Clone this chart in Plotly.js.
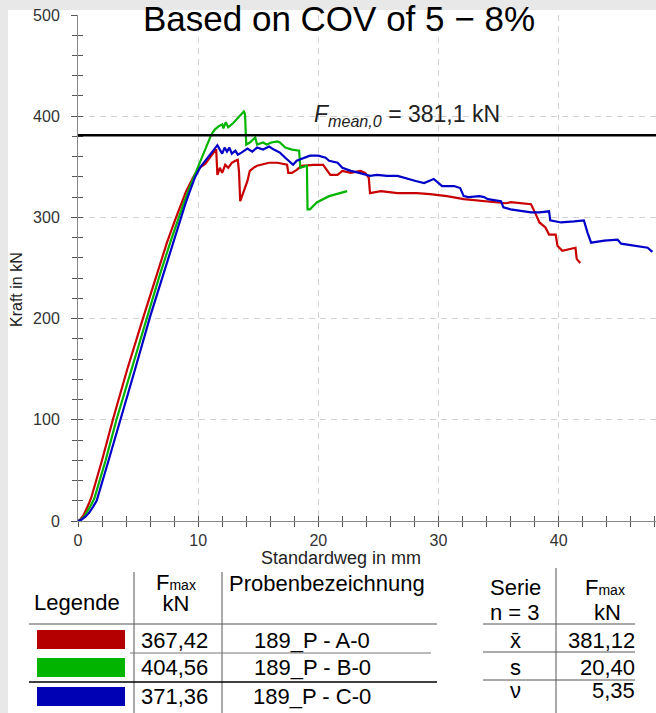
<!DOCTYPE html>
<html>
<head>
<meta charset="utf-8">
<script src="https://cdn.plot.ly/plotly-3.0.1.min.js"></script>
<style>html,body{margin:0;padding:0;background:#e8e8e8;}#chart{width:656px;height:713px;}</style>
</head>
<body>
<div id="chart"></div>
<script>
// ---------- data ----------
const categories = ['189_P - A-0', '189_P - B-0', '189_P - C-0'];
const fmaxValues = ['367,42', '404,56', '371,36'];
const statLabels = ['x\u0304', 's', '\u03bd'];
const statValues = ['381,12', '20,40', '5,35'];
const FMEAN = 381.1;
const titleText = 'Based on COV of 5 \u2212 8%';

const redX = [0,0.15,0.45,0.7,0.9,1.1,2.0,2.9,4.1,5.4,6.5,7.4,8.1,8.6,9.0,9.6,10.0,10.6,11.3,11.5,11.6,11.8,12.0,12.25,12.5,12.8,13.1,13.3,13.4,13.5,13.8,14.1,14.3,14.6,14.9,15.3,15.9,16.6,17.4,17.5,17.8,18.2,18.6,19.6,20.4,20.7,21.0,21.6,22.0,22.7,23.5,23.9,24.2,24.3,25.2,26.6,28.2,29.3,30.7,32.1,34.1,35.2,35.6,36.0,36.8,37.7,38.1,38.4,38.9,39.2,39.75,39.9,40.3,40.9,41.4,41.5,41.8];
const redY = [0,1,5.5,11.5,17,23,60,100,150,200,240,275,298,314,326,340,348,353,365,367.4,342,349,344,352,349,354,356,357,345,316,326,336,346,349,351,352,354,354,352,344,344,347,351,352,352,347,342,342,346,344,346,344,339,324,326,324,324,323,321,318,316,315,314,315,314,313,303,295,290,283,283,272,267,269,270,259,255];

const greenX = [0,0.2,0.55,0.85,1.1,1.35,2.3,3.2,4.45,5.7,6.8,7.7,8.3,8.8,9.3,9.8,10.4,11.1,11.4,11.7,12.0,12.1,12.3,12.5,12.9,13.4,13.5,13.8,13.9,14.0,14.3,14.75,14.9,15.4,15.7,16.1,16.6,16.8,17.25,17.8,18.4,18.5,19.05,19.1,19.3,19.9,20.9,21.7,22.4];
const greenY = [0,1,5,10.5,16,22,60,100,150,200,243,276,298,314,330,345,362,382,387,390,392,388,394,389,393,399,400,404.6,402,372,374,379,372,374,372,374,375,374,369,367,366,349,351,308,308,315,321,324,326];

const blueX = [0,0.25,0.6,0.95,1.25,1.55,2.5,3.5,4.75,6.0,7.1,7.8,8.4,8.9,9.25,9.75,10.2,10.6,11.0,11.6,11.8,12.0,12.2,12.4,12.6,12.8,13.1,13.3,13.6,14.1,14.5,14.9,15.4,15.9,16.3,16.8,17.25,17.7,17.9,18.2,18.8,19.3,20.0,20.6,20.9,21.6,22.0,22.7,23.4,23.9,24.3,24.9,25.7,26.6,27.4,28.1,28.8,29.3,29.6,30.3,31.3,31.8,32.1,32.5,33.4,33.8,34.1,35.2,35.4,36.0,37.7,38.4,39.2,39.3,40.2,41.3,42.1,42.4,42.7,43.8,44.9,45.2,46.3,47.4,47.8];
const blueY = [0,1,4,8.5,14,20,58,100,150,202,244,272,294,312,324,340,350,356,362,371.4,367,363,369,365,369,363,366,362,364,368,365,369,367,370,367,364,359,354,352,356,359,361,361,359,356,354,349,346,344,342,341,342,341,341,338,336,334,337,338,331,331,329,321,320,321,320,318,316,310,308,305,305,306,297,295,296,297,285,275,277,278,274,272,270,266];

// ---------- geometry helpers (pixel -> paper) ----------
const ML = 78, MT = 15, MB = 192, W = 656, H = 713;
const PW = W - ML, PH = H - MT - MB;
const fx = px => (px - ML) / PW;
const fy = py => (H - MB - py) / PH;
const FONT = 'Liberation Sans, Arial, sans-serif';
const TS = 22;

const lineColors = ['#c80000', '#00b400', '#0000c8'];
const swatchColors = ['#b40000', '#00b400', '#0000b4'];

const traces = [
  {x: redX, y: redY, name: categories[0]},
  {x: greenX, y: greenY, name: categories[1]},
  {x: blueX, y: blueY, name: categories[2]}
].map((t, i) => Object.assign(t, {type: 'scatter', mode: 'lines', line: {color: lineColors[i], width: 2.2}, showlegend: false, hoverinfo: 'skip'}));
traces.push({type: 'scatter', x: [null], y: [null], xaxis: 'x2', yaxis: 'y2', showlegend: false, hoverinfo: 'skip'});

const shapes = [];
const annotations = [];
function hline(y, x0, x1, color, w) { shapes.push({type: 'line', xref: 'paper', yref: 'paper', x0: fx(x0), x1: fx(x1), y0: fy(y), y1: fy(y), line: {color: color, width: w}}); }
function vline(x, y0, y1, color, w) { shapes.push({type: 'line', xref: 'paper', yref: 'paper', x0: fx(x), x1: fx(x), y0: fy(y0), y1: fy(y1), line: {color: color, width: w}}); }
function txt(text, x, y, xa, size, extra) { annotations.push(Object.assign({text: text, xref: 'paper', yref: 'paper', x: fx(x), y: fy(y), xanchor: xa || 'center', yanchor: 'middle', showarrow: false, font: {family: FONT, size: size || TS, color: '#000'}}, extra || {})); }

// white sheet over grey surround
shapes.push({type: 'rect', xref: 'paper', yref: 'paper', layer: 'below', x0: fx(8), x1: fx(W + 2), y0: fy(H + 2), y1: fy(10), fillcolor: '#ffffff', line: {width: 0}});

// mean line
shapes.push({type: 'line', xref: 'paper', yref: 'y', x0: 0, x1: 1, y0: FMEAN, y1: FMEAN, line: {color: '#000', width: 2.5}});
annotations.push({text: '<i>F</i><sub><i>mean,0</i></sub> = 381,1 kN', xref: 'paper', yref: 'paper', x: fx(312), y: fy(116), xanchor: 'left', yanchor: 'middle', showarrow: false, font: {family: FONT, size: 23, color: '#222'}});

// axis titles
txt('Standardweg in mm', 341, 558, 'center', 18, {font: {family: FONT, size: 18, color: '#222'}});
txt('Kraft in kN', 16, 290, 'center', 16, {textangle: -90, font: {family: FONT, size: 16, color: '#222'}});

const fmaxHead = 'F<span style="font-size:14px">max</span>';
// two-line header with tight (21 px) line spacing: base font 16.3 px, glyphs 22 px
const fmaxKnHead = '<span style="font-size:22px">F</span><span style="font-size:14px">max</span><br><span style="font-size:22px">kN</span>';

// left table
vline(134, 572, 714, '#555', 1);
vline(222, 572, 714, '#555', 1);
hline(624, 29, 437, '#555', 1);
hline(653, 130, 431, '#777', 1);
hline(682, 29, 437, '#000', 1.5);
txt(fmaxKnHead, 176, 593, 'center', 16.3, {borderpad: 0});
txt('Legende', 77, 602, 'center');
txt('Probenbezeichnung', 327, 583, 'center');
const rowY = [640, 668, 696];
const swY = [[630, 649], [658, 677], [687, 706]];
for (let i = 0; i < 3; i++) {
  shapes.push({type: 'rect', xref: 'paper', yref: 'paper', x0: fx(37), x1: fx(125), y0: fy(swY[i][1]), y1: fy(swY[i][0]), fillcolor: swatchColors[i], line: {width: 0}});
  txt(fmaxValues[i], 139, rowY[i], 'left');
  txt(categories[i], 312, rowY[i], 'center');
}

// right table
vline(556, 568, 714, '#555', 1);
hline(624, 483, 635, '#555', 1);
hline(652, 483, 635, '#555', 1);
hline(680, 483, 635, '#555', 1);
txt('Serie', 515, 587, 'center');
txt('n = 3', 515, 612, 'center');
txt(fmaxHead, 605, 587, 'center');
txt('kN', 607, 612, 'center');
const statRowY = [640, 667, 690];
for (let i = 0; i < 3; i++) {
  txt(statLabels[i], 515, statRowY[i], 'center');
  txt(statValues[i], 637, statRowY[i], 'right');
}

const gridDash = '6px,5px';
const layout = {
  width: W, height: H,
  margin: {l: ML, r: 0, t: MT, b: MB, pad: 0},
  paper_bgcolor: '#e8e8e8',
  plot_bgcolor: 'rgba(0,0,0,0)',
  font: {family: FONT, color: '#333'},
  title: {text: titleText, font: {family: FONT, size: 35, color: '#000'}, x: 339 / W, xref: 'container', xanchor: 'center', y: 1 - 19 / H, yref: 'container', yanchor: 'middle'},
  xaxis: {range: [0, 48.1], dtick: 10, tick0: 0, showline: true, linecolor: '#888', linewidth: 1, zeroline: false,
    showgrid: true, gridcolor: '#d2d2d2', griddash: gridDash, gridwidth: 1,
    ticks: 'outside', ticklen: 5, tickcolor: '#555', tickfont: {size: 16, color: '#333'},
    minor: {dtick: 2, tick0: 0, ticks: 'outside', ticklen: 5, tickcolor: '#555', showgrid: false}, fixedrange: true},
  xaxis2: {overlaying: 'x', anchor: 'y', side: 'bottom', range: [0, 48.1], dtick: 2, tick0: 0, ticks: 'inside', ticklen: 5, tickcolor: '#555',
    showticklabels: false, showgrid: false, showline: false, zeroline: false, fixedrange: true},
  yaxis: {range: [0, 500], dtick: 100, tick0: 0, showline: true, linecolor: '#888', linewidth: 1, zeroline: false,
    showgrid: true, gridcolor: '#d2d2d2', griddash: gridDash, gridwidth: 1,
    ticks: 'outside', ticklen: 6, tickcolor: '#555', tickfont: {size: 16, color: '#333'}, ticklabelstandoff: 8,
    minor: {dtick: 20, tick0: 0, ticks: 'outside', ticklen: 5, tickcolor: '#555', showgrid: false}, fixedrange: true},
  yaxis2: {overlaying: 'y', anchor: 'x', side: 'left', range: [0, 500], dtick: 20, tick0: 0, ticks: 'inside', ticklen: 5, tickcolor: '#555',
    showticklabels: false, showgrid: false, showline: false, zeroline: false, fixedrange: true},
  shapes: shapes,
  annotations: annotations,
  showlegend: false
};

Plotly.newPlot('chart', traces, layout, {displayModeBar: false, staticPlot: true});
</script>
</body>
</html>
